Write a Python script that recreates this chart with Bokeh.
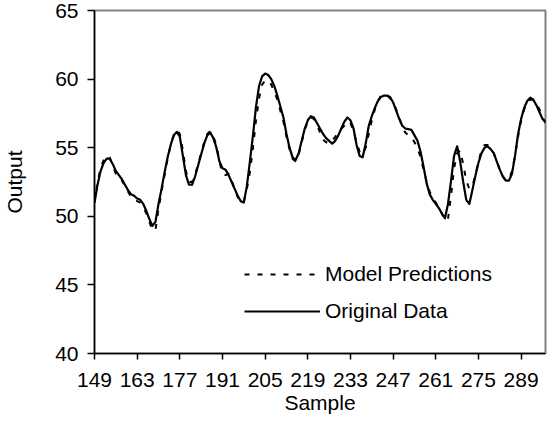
from bokeh.plotting import figure
from bokeh.models import FixedTicker, Range1d, Legend, LegendItem
from bokeh.embed import file_html
from bokeh.resources import INLINE

samples = list(range(149, 298))

original = [51.0, 52.3, 53.3, 53.9, 54.2, 54.2, 53.8, 53.3, 53.0, 52.7,
            52.3, 51.9, 51.6, 51.5, 51.3, 51.2, 50.9, 50.4, 49.8, 49.3,
            49.6, 50.9, 52.0, 53.2, 54.3, 55.2, 55.9, 56.15, 55.8, 54.4,
            53.0, 52.3, 52.3, 52.9, 53.7, 54.5, 55.3, 55.9, 56.1, 55.7,
            55.0, 54.0, 53.5, 53.4, 53.0, 52.5, 52.0, 51.5, 51.1, 51.0,
            52.2, 54.0, 55.9, 58.0, 59.5, 60.2, 60.4, 60.3, 60.0, 59.5,
            58.8, 58.0, 57.2, 56.0, 55.0, 54.3, 54.1, 54.6, 55.5, 56.4,
            57.0, 57.3, 57.2, 56.8, 56.4, 56.0, 55.7, 55.5, 55.3, 55.5,
            55.9, 56.4, 56.9, 57.2, 57.0, 56.4, 55.2, 54.4, 54.3, 55.3,
            56.6, 57.3, 57.9, 58.4, 58.7, 58.8, 58.8, 58.7, 58.3, 57.7,
            57.1, 56.6, 56.4, 56.35, 56.3, 55.9, 55.5, 54.7, 53.6, 52.4,
            51.6, 51.2, 50.9, 50.6, 50.2, 49.86, 50.9, 52.6, 54.4, 55.1,
            54.0, 52.5, 51.2, 50.9, 51.9, 52.95, 53.9, 54.6, 55.0, 55.1,
            54.9, 54.6, 54.0, 53.4, 52.9, 52.6, 52.6, 53.1, 54.4, 56.0,
            57.1, 57.9, 58.4, 58.65, 58.5, 58.1, 57.6, 57.1, 56.9]

predicted = [51.0, 52.5, 53.5, 54.1, 54.4, 54.3, 53.7, 53.1, 52.8, 52.6,
             52.2, 51.8, 51.4, 51.2, 51.1, 51.0, 50.7, 50.2, 49.6, 49.0,
             49.0, 50.5, 51.8, 53.0, 54.2, 55.2, 55.9, 56.3, 56.0, 54.8,
             53.3, 52.5, 52.5, 53.0, 53.8, 54.6, 55.4, 56.0, 56.2, 55.8,
             55.2, 54.0, 53.1, 53.0, 53.1, 52.6, 52.0, 51.4, 51.0, 51.1,
             52.0, 53.2, 55.0, 57.0, 58.6, 59.6, 59.9, 59.9, 59.6, 59.1,
             58.5, 57.7, 56.9, 55.8, 54.9, 54.2, 54.0, 54.5, 55.4, 56.3,
             56.9, 57.2, 57.1, 56.7, 56.1, 55.6, 55.4, 55.3, 55.5, 55.8,
             56.1, 56.4, 56.6, 56.9, 56.8, 56.2, 55.4, 54.7, 54.5, 55.0,
             56.0, 57.0, 57.8, 58.4, 58.8, 58.9, 58.8, 58.6, 58.3, 57.8,
             57.2, 56.5, 56.1, 55.9, 55.8, 55.4, 55.0, 54.3, 53.4, 52.5,
             51.8, 51.3, 51.0, 50.6, 50.2, 49.7, 49.8, 51.5, 53.5, 54.6,
             54.8, 53.8, 52.6, 52.0, 52.2, 53.0, 54.0, 54.8, 55.2, 55.2,
             55.0, 54.6, 54.0, 53.4, 52.9, 52.6, 52.7, 53.3, 54.4, 55.8,
             57.0, 57.8, 58.3, 58.5, 58.5, 58.2, 57.8, 57.2, 56.8]

x_ticks = [149, 163, 177, 191, 205, 219, 233, 247, 261, 275, 289]
y_ticks = [40, 45, 50, 55, 60, 65]

FONT = "Liberation Sans"
FS = "21px"

p = figure(width=547, height=422, output_backend="svg", toolbar_location=None,
           x_range=Range1d(149, 297), y_range=Range1d(40, 65),
           min_border_left=93, min_border_right=2, min_border_top=10,
           min_border_bottom=69)
p.background_fill_color = "white"
p.border_fill_color = "white"
p.outline_line_color = "#808080"
p.outline_line_width = 2
p.xgrid.visible = False
p.ygrid.visible = False

r_pred = p.line(samples, predicted, line_color="black", line_width=2,
                line_dash="5 8")
r_orig = p.line(samples, original, line_color="black", line_width=2.2,
                line_join="round")

for ax in (p.xaxis[0], p.yaxis[0]):
    ax.axis_line_color = "black"
    ax.axis_line_width = 1.5
    ax.major_tick_line_color = "black"
    ax.major_tick_line_width = 1.5
    ax.minor_tick_line_color = None
    ax.major_tick_in = 0
    ax.major_label_text_font = FONT
    ax.major_label_text_font_size = FS
    ax.major_label_text_color = "black"
    ax.axis_label_text_font = FONT
    ax.axis_label_text_font_size = FS
    ax.axis_label_text_font_style = "normal"
    ax.axis_label_text_color = "black"

p.xaxis.ticker = FixedTicker(ticks=x_ticks)
p.yaxis.ticker = FixedTicker(ticks=y_ticks)
p.xaxis.major_tick_out = 6
p.yaxis.major_tick_out = 7
p.xaxis.major_label_standoff = 13
p.yaxis.major_label_standoff = 9
p.xaxis.axis_label = "Sample"
p.yaxis.axis_label = "Output"
p.xaxis.axis_label_standoff = 1
p.yaxis.axis_label_standoff = 26

legend = Legend(items=[LegendItem(label="Model Predictions", renderers=[r_pred]),
                       LegendItem(label="Original Data", renderers=[r_orig])],
                location=(150, 30), orientation="vertical",
                border_line_color=None, background_fill_alpha=0,
                padding=0, margin=0, spacing=13,
                glyph_width=76, glyph_height=20, label_height=20,
                label_standoff=5,
                label_text_font=FONT, label_text_font_size=FS,
                label_text_color="black")
p.add_layout(legend)

open("out.html", "w").write(file_html(p, INLINE))
